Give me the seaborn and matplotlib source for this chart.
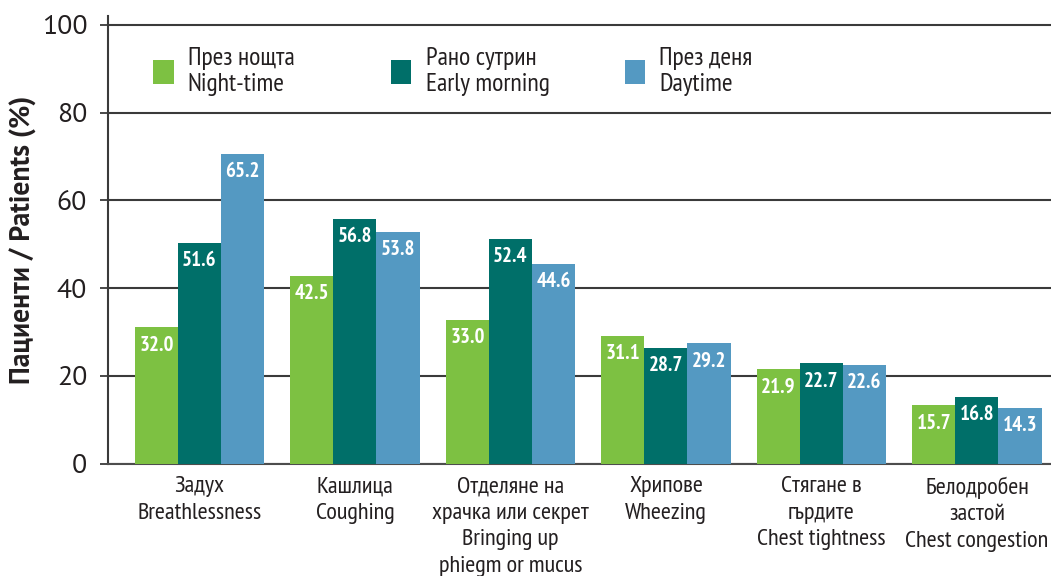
import matplotlib
matplotlib.use("Agg")
import matplotlib.pyplot as plt
from matplotlib import font_manager
from matplotlib.patches import Patch
from matplotlib.legend import Legend
import seaborn as sns
import pandas as pd

categories = ["Задух\nBreathlessness",
              "Кашлица\nCoughing",
              "Отделяне на\nхрачка или секрет\nBringing up\nphiegm or mucus",
              "Хрипове\nWheezing",
              "Стягане в\nгърдите\nChest tightness",
              "Белодробен\nзастой\nChest congestion"]
series = ["През нощта\nNight-time", "Рано сутрин\nEarly morning", "През деня\nDaytime"]
# bar heights as drawn in the picture
night = [31.1, 42.8, 32.8, 29.1, 21.5, 13.3]
morning = [50.3, 55.8, 51.2, 26.4, 22.9, 15.2]
daytime = [70.6, 52.8, 45.6, 27.5, 22.5, 12.7]
# printed value labels
night_lbl = ["32.0", "42.5", "33.0", "31.1", "21.9", "15.7"]
morning_lbl = ["51.6", "56.8", "52.4", "28.7", "22.7", "16.8"]
daytime_lbl = ["65.2", "53.8", "44.6", "29.2", "22.6", "14.3"]
yticks = [0, 20, 40, 60, 80, 100]
colors = ["#7DC142", "#006F69", "#5499C2"]

names = {f.name for f in font_manager.fontManager.ttflist}
def pick(cands, default="DejaVu Sans"):
    for c in cands:
        if c in names:
            return c
    return default

narrow = pick(["PT Sans Narrow", "Roboto Condensed", "Fira Sans Condensed",
               "IBM Plex Sans Condensed", "Liberation Sans Narrow"])
regular = pick(["PT Sans", "Open Sans", "Liberation Sans"])

sns.set_theme(style="white")
plt.rcParams["font.family"] = [narrow, "DejaVu Sans"]
txt = "#231F20"

rows = []
for s, vals in zip(series, [night, morning, daytime]):
    for c, v in zip(categories, vals):
        rows.append({"cat": c, "series": s, "val": v})
df = pd.DataFrame(rows)

fig = plt.figure(figsize=(10.51, 5.76), dpi=100)
ax = fig.add_axes([0.1028, 0.195, 0.8972, 0.777])

sns.barplot(data=df, x="cat", y="val", hue="series", hue_order=series,
            palette=colors, width=0.83, gap=0, saturation=1, ax=ax,
            legend=False, zorder=3, linewidth=0)

for cont, lbls in zip(ax.containers, [night_lbl, morning_lbl, daytime_lbl]):
    for p, l in zip(cont.patches, lbls):
        ax.annotate(l, (p.get_x() + p.get_width() / 2, p.get_height()),
                    xytext=(0, -6), textcoords="offset points",
                    ha="center", va="top", color="white",
                    fontsize=15, fontweight="bold", family=[narrow, "DejaVu Sans"],
                    zorder=4)

ax.set_ylim(0, 102)
ax.set_xlim(-0.588, 5.476)
ax.set_yticks(yticks)
ax.set_yticklabels([str(t) for t in yticks], family=[regular, "DejaVu Sans"],
                   fontsize=20, color=txt)
ax.yaxis.grid(True, color="#3a3a3a", linewidth=1.5, zorder=0)
ax.set_axisbelow(True)
ax.tick_params(axis="y", which="both", left=True, length=6, width=1.3,
               color="#3a3a3a", pad=9)
ax.tick_params(axis="x", bottom=False, pad=3)
for t in ax.get_xticklabels():
    t.set_fontsize(17.5)
    t.set_color(txt)
    t.set_linespacing(1.35)
    t.set_verticalalignment("top")

for side in ["top", "right"]:
    ax.spines[side].set_visible(False)
ax.spines["left"].set_color("#3a3a3a")
ax.spines["left"].set_linewidth(1.5)
ax.spines["bottom"].set_color("#4d4d4d")
ax.spines["bottom"].set_linewidth(1.5)

ax.set_xlabel("")
ax.set_ylabel("Пациенти / Patients (%)", family=[regular, "DejaVu Sans"], fontsize=20,
              fontweight="bold", color=txt, labelpad=3)

# one legend entry per column, placed like the reference
anchors = [0.0477, 0.300, 0.548]
for i, (c, s) in enumerate(zip(colors, series)):
    leg = Legend(ax, [Patch(facecolor=c, edgecolor="none")], [s], loc="upper left",
                 bbox_to_anchor=(anchors[i], 0.93), frameon=False, borderpad=0,
                 borderaxespad=0, handlelength=0.8, handleheight=1.05,
                 handletextpad=0.55, fontsize=18.5)
    for t in leg.get_texts():
        t.set_color(txt)
        t.set_linespacing(1.15)
    ax.add_artist(leg)

fig.savefig("out.png", dpi=100)
